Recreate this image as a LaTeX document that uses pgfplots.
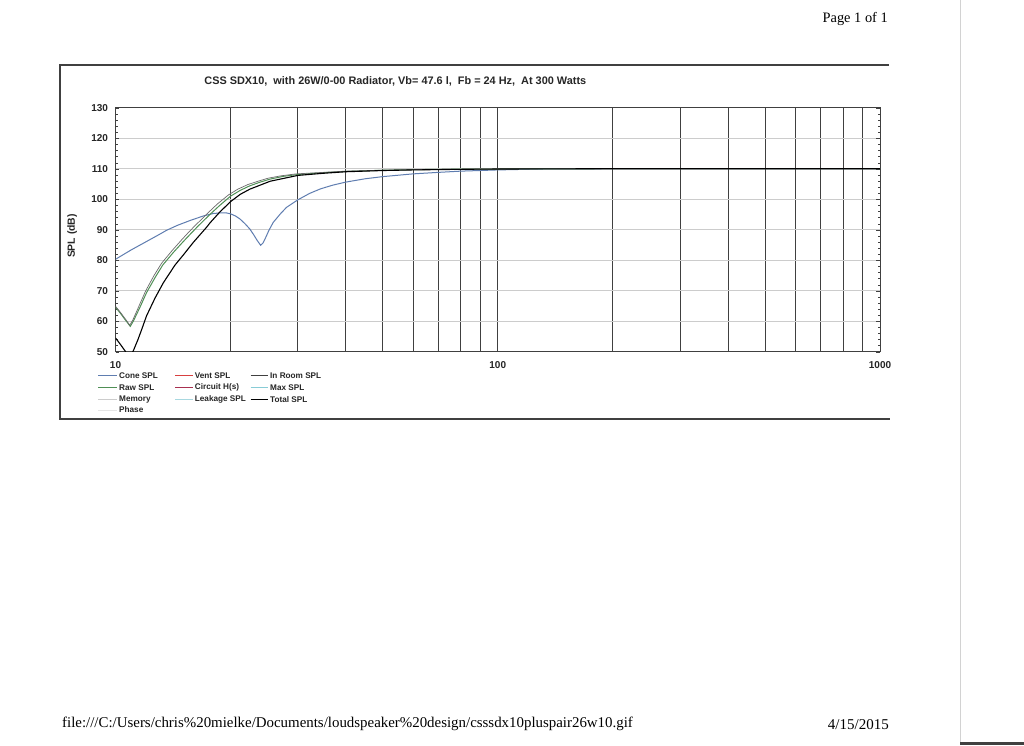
\documentclass[border=0pt]{standalone}
\usepackage{fontspec}
\setmainfont{Liberation Sans}
\newfontfamily\serif{Liberation Serif}
\usepackage{pgfplots}
\pgfplotsset{compat=1.18}

\definecolor{coneblue}{HTML}{5F7DB0}
\definecolor{rawgreen}{HTML}{4F8F55}
\definecolor{roomgray}{HTML}{6A6A6A}
\definecolor{ventred}{HTML}{D84040}
\definecolor{circred}{HTML}{A83050}
\definecolor{leakcyan}{HTML}{A8D8E0}
\definecolor{maxcyan}{HTML}{88CCD6}
\definecolor{framegray}{HTML}{404040}
\definecolor{inkgray}{HTML}{262626}

\begin{document}
\begin{tikzpicture}[x=1pt,y=1pt]
\useasboundingbox (0,0) rectangle (1024,745);
\fill[white] (0,0) rectangle (1024,745);

% page furniture of the scan
\node[anchor=east,inner sep=0,font=\serif\fontsize{14.4}{16}\selectfont] at (888,726) {Page 1 of 1};
\node[anchor=west,inner sep=0,font=\serif\fontsize{14.9}{16}\selectfont] at (62,21) {file:///C:/Users/chris\%20mielke/Documents/loudspeaker\%20design/csssdx10pluspair26w10.gif};
\node[anchor=east,inner sep=0,font=\serif\fontsize{15}{16}\selectfont] at (889,20) {4/15/2015};
\draw[gray!35,line width=0.8] (960.5,0) -- (960.5,745);
\fill[framegray] (960,0) rectangle (1024,3.5);

% chart frame
\draw[framegray,line width=1.4] (889,680) -- (60,680) -- (60,326) -- (890,326);

% title and y label of the chart
\node[font=\bfseries\fontsize{10.9}{12}\selectfont, text=inkgray] at (395.3,664) {CSS SDX10,\ \ with 26W/0-00 Radiator, Vb= 47.6 l,\ \ Fb = 24 Hz,\ \ At 300 Watts};
\node[rotate=90, font=\bfseries\fontsize{10.4}{12}\selectfont, text=inkgray] at (72.3,509) {SPL (dB)};

\begin{axis}[
    at={(115.5pt,393.3pt)}, anchor=south west,
    scale only axis, width=764.5pt, height=244pt,
    xmode=log, xmin=10, xmax=1000, ymin=50, ymax=130,
    xtick={10,100,1000}, xticklabels={10,100,1000},
    minor xtick={20,30,40,50,60,70,80,90,200,300,400,500,600,700,800,900},
    ytick={50,60,...,130}, minor ytick={52,54,...,128},
    xmajorgrids, xminorgrids, ymajorgrids,
    major x grid style={framegray,line width=0.8},
    minor x grid style={framegray,line width=0.8},
    major y grid style={gray!40,line width=0.7},
    x tick style={draw=none},
    major y tick style={framegray}, minor y tick style={framegray},
    major tick length=4pt, minor tick length=2.5pt,
    axis line style={framegray,line width=0.9},
    /pgf/number format/assume math mode=true,
    tick label style={font=\bfseries\fontsize{10}{11}\selectfont, text=inkgray},
    yticklabel style={xshift=-4pt},
    xticklabel style={yshift=-6pt},
    clip=true,
]
% Cone SPL
\addplot[coneblue, line width=1.0] coordinates {
  (10,80.3) (11,83.4) (12,86.0) (13,88.4) (13.6,89.8) (14.5,91.4) (15.66,93.0)
  (16.97,94.5) (18,95.3) (18.75,95.5) (19.5,95.5) (20,95.2) (20.6,94.5)
  (21.17,93.5) (21.8,92.0) (22.47,90.2) (23,88.3) (23.5,86.4) (23.97,84.9)
  (24.3,85.6) (24.6,86.9) (25.2,89.8) (25.86,92.4) (27,95.2) (28,97.3)
  (30,99.8) (32.2,101.9) (34.4,103.4) (37,104.6) (40,105.6) (45,106.7)
  (50,107.4) (60,108.3) (70,108.8) (80,109.2) (100,109.6) (130,109.9)
  (200,110) (1000,110)
};
% Raw SPL
\addplot[rawgreen, line width=1.0] coordinates {
  (10,64.6) (10.3,62.6) (10.6,60.5) (10.93,58.3) (11.13,60.0) (11.35,62.2)
  (11.59,64.6) (12.06,69.4) (12.69,74.3) (13.29,78.4) (14.16,82.5)
  (15.04,86.1) (15.82,89.0) (16.36,90.9) (17.66,95.0) (18.75,98.0)
  (20,101.0) (21.2,102.9) (22.47,104.4) (23.9,105.6) (25.4,106.6)
  (27.5,107.5) (30,108.1) (35,108.7) (40,109.1) (50,109.5) (60,109.7)
  (80,109.85) (100,109.9) (200,110) (1000,110)
};
% In Room SPL
\addplot[roomgray, line width=0.7] coordinates {
  (10,64.9) (10.3,62.9) (10.6,60.8) (10.9,58.7) (11.1,60.4) (11.32,62.8)
  (11.55,65.3) (12.0,70.0) (12.6,74.9) (13.2,79.0) (14.05,83.1) (14.9,86.7)
  (15.65,89.6) (16.2,91.5) (17.45,95.5) (18.5,98.5) (19.75,101.4)
  (20.9,103.3) (22.2,104.8) (23.6,105.9) (25.1,106.9) (27.2,107.7)
  (29.7,108.3) (35,108.8) (40,109.2) (50,109.5) (60,109.7) (80,109.85)
  (100,109.9) (200,110) (1000,110)
};
% Total SPL
\addplot[black, line width=1.1] coordinates {
  (10,54.5) (10.3,52.4) (10.6,50.2) (10.88,47.6) (11.15,50.5) (11.45,54.0)
  (11.71,57.3) (12.06,61.8) (12.69,67.6) (13.34,72.6) (14.31,78.4)
  (15.04,81.7) (15.97,85.8) (17.31,90.8) (17.66,92.2) (18.75,95.8)
  (20,99.2) (21.2,101.6) (22.47,103.3) (25.4,105.9) (30,107.8) (35,108.5)
  (40,109.0) (50,109.4) (60,109.6) (80,109.8) (100,109.9) (200,110)
  (1000,110)
};
\end{axis}

% legend (three columns, as in the program's printout)
\begin{scope}[font=\bfseries\fontsize{8.2}{9}\selectfont]
  \draw[draw=coneblue, line width=1.3]  (98.3,369.3) -- (116.7,369.3); \node[anchor=west,inner sep=0,text=inkgray] at (119,369.3) {Cone SPL};
  \draw[draw=rawgreen, line width=1.3]  (98.3,357.3) -- (116.7,357.3); \node[anchor=west,inner sep=0,text=inkgray] at (119,357.3) {Raw SPL};
  \draw[draw=gray!40, line width=1.0]   (98.3,345.7) -- (116.7,345.7); \node[anchor=west,inner sep=0,text=inkgray] at (119,345.7) {Memory};
  \draw[draw=gray!20, line width=1.0]   (98.3,335.0) -- (116.7,335.0); \node[anchor=west,inner sep=0,text=inkgray] at (119,335.0) {Phase};
  \draw[draw=ventred, line width=1.3]   (175,369.3) -- (192.7,369.3); \node[anchor=west,inner sep=0,text=inkgray] at (194.7,369.3) {Vent SPL};
  \draw[draw=circred, line width=1.3]   (175,357.3) -- (192.7,357.3); \node[anchor=west,inner sep=0,text=inkgray] at (194.7,357.3) {Circuit H(s)};
  \draw[draw=leakcyan, line width=1.0]  (175,345.7) -- (192.7,345.7); \node[anchor=west,inner sep=0,text=inkgray] at (194.7,345.7) {Leakage SPL};
  \draw[draw=framegray, line width=1.2] (250.7,369.3) -- (268.3,369.3); \node[anchor=west,inner sep=0,text=inkgray] at (270,369.3) {In Room SPL};
  \draw[draw=maxcyan, line width=1.0]   (250.7,357.3) -- (268.3,357.3); \node[anchor=west,inner sep=0,text=inkgray] at (270,357.3) {Max SPL};
  \draw[draw=black, line width=1.2]     (250.7,345.7) -- (268.3,345.7); \node[anchor=west,inner sep=0,text=inkgray] at (270,345.7) {Total SPL};
\end{scope}
\end{tikzpicture}
\end{document}
